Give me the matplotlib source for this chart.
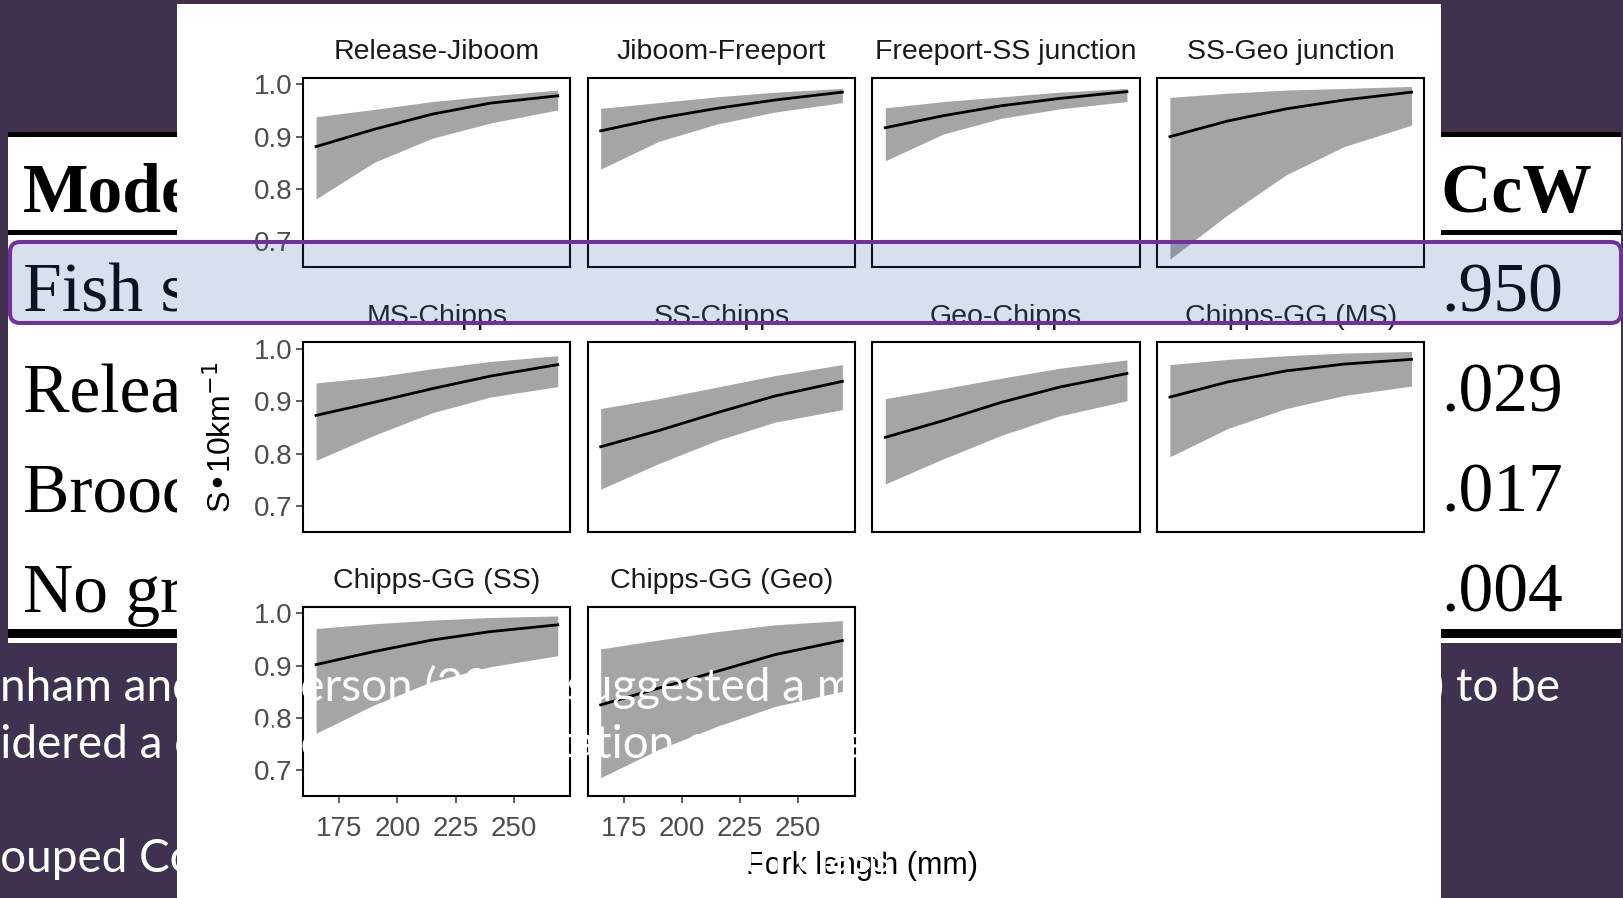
import matplotlib
matplotlib.use("Agg")
import matplotlib.pyplot as plt
from matplotlib.patches import Rectangle, FancyBboxPatch

# slide table (mostly hidden behind the figure panel)
model_names = ["Fish size", "Release group", "Brood year", "No grouping"]
aiccw = [0.950, 0.029, 0.017, 0.004]

# survival per 10 km vs fork length, one row per reach
segments = ["Release-Jiboom", "Jiboom-Freeport", "Freeport-SS junction", "SS-Geo junction",
            "MS-Chipps", "SS-Chipps", "Geo-Chipps", "Chipps-GG (MS)",
            "Chipps-GG (SS)", "Chipps-GG (Geo)"]
fork_length = [165, 190, 215, 240, 269]
surv_mean = [
    [0.881, 0.914, 0.943, 0.964, 0.978],
    [0.911, 0.935, 0.954, 0.970, 0.985],
    [0.917, 0.940, 0.959, 0.973, 0.986],
    [0.900, 0.930, 0.953, 0.970, 0.985],
    [0.873, 0.898, 0.924, 0.948, 0.970],
    [0.813, 0.844, 0.878, 0.910, 0.938],
    [0.831, 0.863, 0.898, 0.927, 0.953],
    [0.908, 0.937, 0.958, 0.971, 0.980],
    [0.902, 0.927, 0.949, 0.965, 0.978],
    [0.825, 0.857, 0.889, 0.921, 0.948],
]
surv_lower = [
    [0.781, 0.851, 0.897, 0.926, 0.951],
    [0.838, 0.891, 0.924, 0.947, 0.965],
    [0.854, 0.905, 0.935, 0.953, 0.967],
    [0.666, 0.751, 0.827, 0.881, 0.922],
    [0.787, 0.835, 0.878, 0.908, 0.928],
    [0.732, 0.781, 0.825, 0.860, 0.884],
    [0.742, 0.790, 0.835, 0.872, 0.901],
    [0.794, 0.848, 0.886, 0.911, 0.929],
    [0.771, 0.825, 0.870, 0.898, 0.919],
    [0.686, 0.740, 0.784, 0.822, 0.851],
]
surv_upper = [
    [0.938, 0.952, 0.967, 0.978, 0.989],
    [0.954, 0.965, 0.976, 0.985, 0.992],
    [0.955, 0.967, 0.976, 0.985, 0.992],
    [0.975, 0.983, 0.989, 0.992, 0.996],
    [0.935, 0.946, 0.962, 0.976, 0.987],
    [0.886, 0.905, 0.927, 0.949, 0.970],
    [0.905, 0.924, 0.944, 0.963, 0.979],
    [0.970, 0.980, 0.987, 0.992, 0.995],
    [0.971, 0.980, 0.987, 0.992, 0.995],
    [0.932, 0.949, 0.965, 0.978, 0.986],
]
x_ticks = [175, 200, 225, 250]
y_ticks = [0.7, 0.8, 0.9, 1.0]

W, H = 1623, 898
PURPLE = "#40314f"
fig = plt.figure(figsize=(W / 100, H / 100), dpi=100, facecolor=PURPLE)
renderer = fig.canvas.get_renderer()


def text_w(s, **kw):
    t = fig.text(0, 0, s, **kw)
    w = t.get_window_extent(renderer).width
    t.remove()
    return w


# background layer in pixel coords
bg = fig.add_axes([0, 0, 1, 1], zorder=0)
bg.set_xlim(0, W)
bg.set_ylim(H, 0)
bg.axis("off")

# table
bg.add_patch(Rectangle((8, 132), 1613, 511, facecolor="white", edgecolor="none", zorder=1))
for y0, h in [(132, 5), (230, 5), (629, 9)]:
    bg.add_patch(Rectangle((8, y0), 1613, h, facecolor="black", edgecolor="none", zorder=2))
serif = dict(family="Liberation Serif", fontsize=50, color="black", va="baseline", zorder=3)
bg.text(23, 212, "Model", fontweight="bold", **serif)
bg.text(1592, 212, "AICcW", fontweight="bold", ha="right", **serif)
for i, (name, w) in enumerate(zip(model_names, aiccw)):
    yb = 312 + 100 * i
    bg.text(23, yb, name, **serif)
    bg.text(1441, yb, f"{w:.3f}".lstrip("0"), ha="left", **serif)

# white figure panel pasted on the slide
bg.add_patch(Rectangle((177, 4), 1441 - 177, H - 4, facecolor="white", edgecolor="none", zorder=10))
sans = "Liberation Sans"
bg.text(222, 437, r"S•10km$^{-1}$", rotation=90, ha="center", va="center",
        fontsize=23, family=sans, color="black", zorder=11)
bg.text(862, 866, "Fork length (mm)", ha="center", va="center",
        fontsize=22, family=sans, color="black", zorder=11)

# facets
lefts = [303.3, 587.9, 872.5, 1157.1]
tops = [77.7, 342.3, 606.7]
pw, ph = 267, 189.5
for k, name in enumerate(segments):
    r, c = divmod(k, 4)
    x0, y0 = lefts[c], tops[r]
    ax = fig.add_axes([x0 / W, 1 - (y0 + ph) / H, pw / W, ph / H], zorder=1)
    ax.fill_between(fork_length, surv_lower[k], surv_upper[k], color="#a5a5a5", lw=0)
    ax.plot(fork_length, surv_mean[k], color="black", lw=2.0)
    ax.set_xlim(159.5, 274.4)
    ax.set_ylim(0.6506, 1.0126)
    ax.set_xticks(x_ticks)
    ax.set_yticks(y_ticks)
    ax.set_yticklabels([f"{v:.1f}" for v in y_ticks])
    ax.tick_params(length=5, width=1.1, color="#333333", labelcolor="#4d4d4d",
                   labelsize=20)
    ax.tick_params(axis="y", pad=3)
    ax.tick_params(axis="x", pad=9)
    for lab in ax.get_xticklabels() + ax.get_yticklabels():
        lab.set_family(sans)
    if c != 0:
        ax.tick_params(axis="y", left=False, labelleft=False)
    if r != 2:
        ax.tick_params(axis="x", bottom=False, labelbottom=False)
    for sp in ax.spines.values():
        sp.set_linewidth(1.5)
        sp.set_color("black")
    ax.set_title(name, fontsize=20.5, family=sans, color="#1a1a1a", pad=13.5)

# overlay: highlighted row and slide body text
top = fig.add_axes([0, 0, 1, 1], zorder=5)
top.set_xlim(0, W)
top.set_ylim(H, 0)
top.axis("off")
top.add_patch(FancyBboxPatch((10, 242), 1611, 81, boxstyle="round,pad=0,rounding_size=10",
                             facecolor=("#3268aa", 0.2), edgecolor="#7030a0", lw=2.9))

body = dict(family="Lato", fontsize=33, color="white", va="baseline")
top.text(-text_w("Bur", **body), 701, "Burnham and", **body)
top.text(300 - text_w("And", **body), 701, "Anderson (2002) suggested a model with", **body)
top.text(1456 - text_w(") ", **body), 701, ") to be", **body)
top.text(-text_w("cons", **body), 758, "considered a confident representation of the data", **body)
top.text(-text_w("Gr", **body), 872, "Grouped Coleman releases by fork length class", **body)

fig.savefig("out.png", dpi=100, facecolor=PURPLE)
